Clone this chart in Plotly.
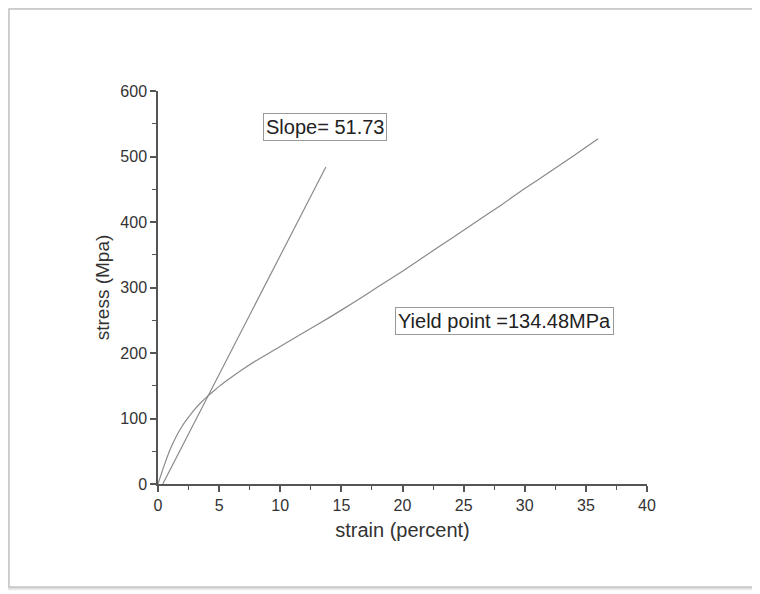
import plotly.graph_objects as go

# Stress-strain curve
strain = [0, 0.5, 1, 1.5, 2, 2.5, 3, 3.5, 4, 4.5, 5, 6, 7, 8, 9, 10, 11, 12, 14, 16,
          18, 20, 22, 24, 26, 28, 30, 32, 34, 36]
stress = [0, 28, 53, 73, 89, 102, 114, 124, 133, 141, 149, 163, 176, 188, 199, 210, 221,
          232, 254, 277, 301, 325, 350, 375, 400, 425, 451, 476, 501, 527]

# Elastic slope line
slope_x = [0.39, 13.73]
slope_y = [0, 484]

x_ticks = [0, 5, 10, 15, 20, 25, 30, 35, 40]
y_ticks = [0, 100, 200, 300, 400, 500, 600]

FONT = "Liberation Sans, Arial, sans-serif"

fig = go.Figure()
fig.add_trace(go.Scatter(x=strain, y=stress, mode="lines",
                         line=dict(color="#8a8a8a", width=1.2, shape="spline", smoothing=0.5),
                         showlegend=False))
fig.add_trace(go.Scatter(x=slope_x, y=slope_y, mode="lines",
                         line=dict(color="#8a8a8a", width=1.2), showlegend=False))

axis_common = dict(showgrid=False, zeroline=False, showline=True, linecolor="#555555",
                   linewidth=1.5, ticks="outside", ticklen=6, tickwidth=1.5,
                   tickcolor="#555555", tickfont=dict(family=FONT, size=16, color="#333333"),
                   mirror=False)

fig.update_xaxes(range=[0, 40], tickvals=x_ticks,
                 title=dict(text="strain (percent)", font=dict(family=FONT, size=20, color="#333333"),
                            standoff=10),
                 minor=dict(ticks="outside", ticklen=4, tickwidth=1.2, tickcolor="#555555", dtick=2.5),
                 **axis_common)
fig.update_yaxes(range=[0, 600], tickvals=y_ticks,
                 title=dict(text="stress (Mpa)", font=dict(family=FONT, size=19, color="#333333"),
                            standoff=6),
                 minor=dict(ticks="outside", ticklen=4, tickwidth=1.2, tickcolor="#555555", dtick=50),
                 **axis_common)

fig.add_annotation(x=13.70, y=544.7, xref="x", yref="y", text="Slope= 51.73", showarrow=False,
                   font=dict(family=FONT, size=20, color="#222222"),
                   bordercolor="#999999", borderwidth=1, borderpad=2, bgcolor="white")
fig.add_annotation(x=28.35, y=248.7, xref="x", yref="y", text="Yield point =134.48MPa", showarrow=False,
                   font=dict(family=FONT, size=20, color="#222222"),
                   bordercolor="#999999", borderwidth=1, borderpad=2, bgcolor="white")

# Frame around the figure (left, top and bottom edges only)
L, R, T, B = 150, 113, 83, 110
W, H = 752, 586
pw, ph = W - L - R, H - T - B
def fx2paper(fx):
    return (fx - L) / pw
def fy2paper(fy):
    return (H - B - fy) / ph

for off, col, w in [(2, "#eeeeee", 3), (1, "#dddddd", 2), (0, "#c4c4c4", 1.5)]:
    xl = fx2paper(1 - off)
    xr = fx2paper(W + 50)
    yt = fy2paper(1 - off)
    yb = fy2paper(579 + off)
    for (a, b, c, d) in [(xl, yb, xl, yt), (xl, yt, xr, yt), (xl, yb, xr, yb)]:
        fig.add_shape(type="line", xref="paper", yref="paper", x0=a, y0=b, x1=c, y1=d,
                      line=dict(color=col, width=w), layer="below")

fig.update_layout(width=W, height=H,
                  margin=dict(l=L, r=R, t=T, b=B),
                  plot_bgcolor="white", paper_bgcolor="white",
                  font=dict(family=FONT))

fig.write_html("out.html")
